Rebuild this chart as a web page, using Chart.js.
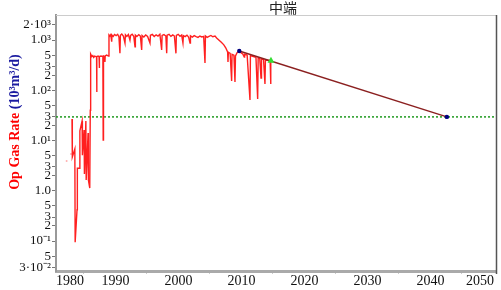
<!DOCTYPE html>
<html>
<head>
<meta charset="utf-8">
<script src="https://cdn.jsdelivr.net/npm/chart.js@4"></script>
<style>
  html, body { margin: 0; padding: 0; background: #fff; }
  #wrap { width: 501px; height: 290px; }
</style>
</head>
<body>
<div id="wrap"><canvas id="rateChart" width="501" height="290"></canvas></div>
<script>
const chartTitle = "中端";

// Historic gas rate (10^3 m3/d)
const histYears = [
  1983.10, 1983.15, 1983.55, 1983.60, 1983.90, 1983.95, 1984.30, 1984.35,
  1984.70, 1984.75, 1985.02, 1985.07, 1985.30, 1985.35, 1985.65, 1985.70,
  1985.92, 1986.00, 1986.06, 1986.25, 1986.40, 1986.55, 1986.70, 1987.00,
  1987.02, 1987.06, 1987.25, 1987.40, 1987.43, 1987.47, 1987.70, 1988.00,
  1988.05, 1988.10, 1988.30, 1988.33, 1988.37, 1988.60, 1988.90, 1988.97,
  1989.10, 1989.25, 1989.40, 1989.45, 1989.65, 1989.85, 1990.10, 1990.35,
  1990.55, 1990.71, 1990.78, 1991.00, 1991.25, 1991.51, 1991.58, 1991.80,
  1992.05, 1992.30, 1992.40, 1992.65, 1992.90, 1993.10, 1993.16, 1993.40,
  1993.70, 1993.95, 1994.16, 1994.22, 1994.50, 1994.80, 1995.10, 1995.48,
  1995.55, 1995.85, 1996.15, 1996.45, 1996.75, 1997.05, 1997.33, 1997.40,
  1997.70, 1998.00, 1998.13, 1998.20, 1998.50, 1998.80, 1999.10, 1999.35,
  1999.60, 1999.66, 1999.95, 2000.25, 2000.50, 2000.71, 2000.78, 2001.05,
  2001.35, 2001.60, 2001.83, 2001.90, 2002.20, 2002.50, 2002.80, 2003.10,
  2003.40, 2003.70, 2004.00, 2004.21, 2004.28, 2004.55, 2004.85, 2005.15,
  2005.45, 2005.80, 2006.06, 2006.40, 2006.80, 2007.20, 2007.50, 2007.80,
  2007.86, 2007.92, 2008.20, 2008.44, 2008.50, 2008.80, 2008.97, 2009.05,
  2009.30, 2009.65, 2009.90, 2010.20, 2010.44, 2010.50, 2010.90, 2011.35,
  2011.42, 2011.90, 2012.30, 2012.57, 2012.65, 2012.90, 2013.10, 2013.18,
  2013.50, 2013.73, 2013.80, 2014.30, 2014.55, 2014.62, 2014.68
];
const histRates = [
  26.8, 4.7, 6.8, 0.095, 0.42, 2.8, 2.8, 15.5,
  24.4, 5.1, 16.2, 2.15, 24.4, 1.64, 14.1, 1.64,
  1.13, 40, 526, 470, 490, 450, 480, 460,
  92, 470, 480, 460, 277, 470, 480, 470,
  10.2, 480, 470, 365, 480, 500, 480, 1257,
  1200, 1280, 925, 1250, 1180, 1290, 1220, 1300,
  1150, 543, 1240, 1310, 1200, 871, 1270, 1180,
  1290, 1000, 1230, 1300, 1190, 735, 1250, 1170,
  1280, 1200, 632, 1230, 1150, 1260, 1180, 871,
  1240, 1290, 1170, 1270, 1200, 1300, 632, 1230,
  1280, 1200, 543, 1250, 1300, 1180, 1260, 1200,
  543, 1240, 1300, 1190, 1260, 871, 1220, 1170,
  1250, 1150, 871, 1210, 1140, 1220, 1170, 1130,
  1200, 1150, 1180, 349, 1200, 1130, 1180, 1230,
  1160, 1200, 1096, 1000, 900, 800, 700, 580,
  365, 570, 540, 153, 520, 500, 146, 480,
  560, 604, 560, 530, 459, 520, 500, 64,
  490, 470, 450, 67, 440, 430, 175, 420,
  410, 133, 400, 390, 395, 133, 387
];

// Faint early readings
const earlyYears = [1982.25, 1982.94];
const earlyRates = [3.9, 5.4];

// Forecast: start, end
const fcYears = [2009.65, 2042.6];
const fcRates = [604, 29.5];

// Last history point
const lastYear = 2014.68;
const lastRate = 387;

// Economic limit
const econLimit = 29.5;

// Axes
const xMin = 1980.56, xMax = 2050.4;
const yMin = 0.0253, yMax = 3145;
const xTickMarks = [1985, 1995, 2005, 2015, 2025, 2035, 2045];
const xLabels = [1980, 1990, 2000, 2010, 2020, 2030, 2040, 2050];
const yTickValues = [2000, 1000, 500, 300, 200, 100, 50, 30, 20, 10, 5, 3, 2, 1, 0.5, 0.3, 0.2, 0.1, 0.05, 0.03];
const yTickLabels = ["2·10³", "1.0³", "5", "3", "2", "1.0²", "5", "3", "2", "1.0¹", "5", "3", "2", "1.0", "5", "3", "2", "10⁻¹", "5", "3·10⁻²"];

const toPoints = (xs, ys) => xs.map((x, i) => ({ x: x, y: ys[i] }));

const decorations = {
  id: "decorations",
  afterDraw(chart) {
    const { ctx, chartArea: a, scales } = chart;
    ctx.save();
    // top and right frame
    ctx.strokeStyle = "#cccccc";
    ctx.lineWidth = 1;
    ctx.beginPath();
    ctx.moveTo(a.left, a.top + 0.5);
    ctx.lineTo(a.right, a.top + 0.5);
    ctx.stroke();
    ctx.strokeStyle = "#555555";
    ctx.lineWidth = 1.5;
    ctx.beginPath();
    ctx.moveTo(a.right + 0.5, a.top);
    ctx.lineTo(a.right + 0.5, a.bottom + 3);
    ctx.stroke();

    // decade labels, kept inside the frame at the ends
    ctx.font = '14px "Liberation Serif"';
    ctx.fillStyle = "#111";
    ctx.textAlign = "center";
    ctx.textBaseline = "middle";
    xLabels.forEach((yr) => {
      let px = scales.x.getPixelForValue(yr);
      px = Math.min(Math.max(px, a.left + 14), a.right - 16);
      ctx.fillText(String(yr), px, 281);
    });

    // title
    ctx.font = '14px "Noto Sans CJK SC"';
    ctx.fillStyle = "#222";
    ctx.fillText(chartTitle, 283, 8);

    // y axis title, two colours
    ctx.translate(15, 122);
    ctx.rotate(-Math.PI / 2);
    ctx.font = 'bold 14px "Liberation Serif"';
    const t1 = "Op Gas Rate ";
    const t2 = "(10³m³/d)";
    const w1 = ctx.measureText(t1).width;
    const w2 = ctx.measureText(t2).width;
    ctx.textAlign = "left";
    ctx.fillStyle = "#ff0000";
    ctx.fillText(t1, -(w1 + w2) / 2, 0);
    ctx.fillStyle = "#1a1aa0";
    ctx.fillText(t2, -(w1 + w2) / 2 + w1, 0);
    ctx.restore();
  },
};

const ctx = document.getElementById("rateChart").getContext("2d");

new Chart(ctx, {
  type: "line",
  data: {
    datasets: [
      {
        label: "econ limit",
        data: [{ x: xMin, y: econLimit }, { x: xMax, y: econLimit }],
        borderColor: "#1f9a1f",
        borderWidth: 1.5,
        borderDash: [2, 2],
        pointRadius: 0,
        order: 4,
      },
      {
        label: "history",
        data: toPoints(histYears, histRates),
        borderColor: "#ff2020",
        borderWidth: 1.4,
        pointRadius: 0,
        tension: 0,
        order: 3,
      },
      {
        label: "early",
        data: toPoints(earlyYears, earlyRates),
        showLine: false,
        pointRadius: 1,
        pointBackgroundColor: "#ffb0b0",
        pointBorderWidth: 0,
        order: 3,
      },
      {
        label: "forecast",
        data: toPoints(fcYears, fcRates),
        borderColor: "#8b2020",
        borderWidth: 1.4,
        pointRadius: 0,
        order: 2,
      },
      {
        label: "forecast ends",
        data: toPoints(fcYears, fcRates),
        showLine: false,
        pointRadius: 2.2,
        pointBorderWidth: 0,
        pointBackgroundColor: "#000080",
        order: 0,
      },
      {
        label: "last",
        data: [{ x: lastYear, y: lastRate }],
        showLine: false,
        pointStyle: "triangle",
        pointRadius: 4,
        pointBorderWidth: 0,
        pointBackgroundColor: "#33dd33",
        order: 0,
      },
    ],
  },
  options: {
    responsive: false,
    animation: false,
    layout: { padding: { top: 15, right: 5, left: 0, bottom: 0 } },
    plugins: {
      legend: { display: false },
      tooltip: { enabled: false },
      title: { display: false },
    },
    scales: {
      x: {
        type: "linear",
        min: xMin,
        max: xMax,
        afterBuildTicks: (axis) => {
          axis.ticks = xTickMarks.map((v) => ({ value: v }));
        },
        afterFit: (axis) => {
          axis.height = 19;
        },
        ticks: { callback: () => "", autoSkip: false },
        grid: {
          drawOnChartArea: false,
          drawTicks: true,
          tickLength: 3,
          color: "#cccccc",
        },
        border: { color: "#aaaaaa", width: 3 },
      },
      y: {
        type: "logarithmic",
        min: yMin,
        max: yMax,
        afterBuildTicks: (axis) => {
          axis.ticks = yTickValues.map((v) => ({ value: v }));
        },
        afterFit: (axis) => {
          axis.width = 56;
        },
        ticks: {
          autoSkip: false,
          padding: 1,
          color: "#111",
          font: { family: "Liberation Serif", size: 13 },
          callback: (value, index) => yTickLabels[index],
        },
        grid: {
          drawOnChartArea: false,
          drawTicks: true,
          tickLength: 4,
          color: "#777777",
        },
        border: { color: "#999999", width: 2 },
      },
    },
  },
  plugins: [decorations],
});
</script>
</body>
</html>
